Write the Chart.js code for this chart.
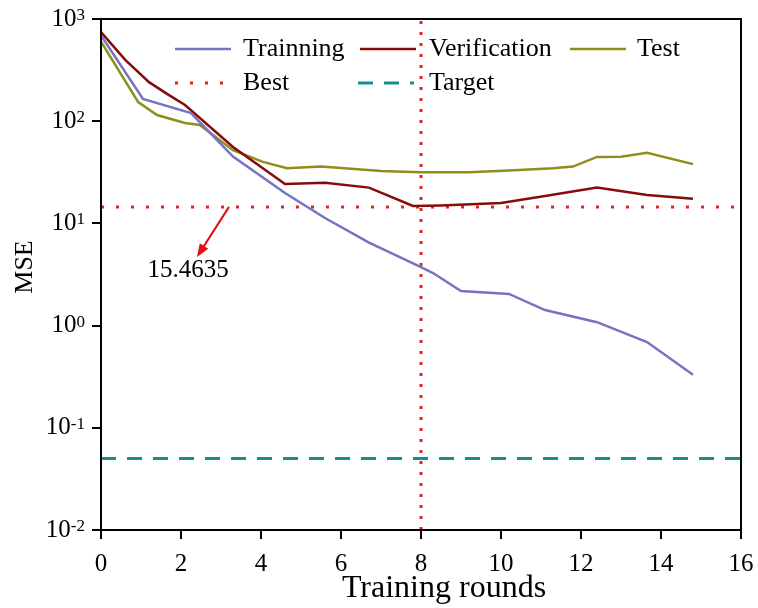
<!DOCTYPE html>
<html>
<head>
<meta charset="utf-8">
<script src="https://cdn.jsdelivr.net/npm/chart.js@4.4.1/dist/chart.umd.min.js"></script>
<style>
  body { margin: 0; background: #fff; }
  #wrap { width: 758px; height: 608px; }
</style>
</head>
<body>
<div id="wrap"><canvas id="myChart" width="758" height="608"></canvas></div>
<script>
// datos
const trainX = [0, 1.05, 2.25, 3.3, 4.6, 5.6, 6.7, 8.0, 8.3, 9.0, 10.2, 11.1, 12.4, 13.65, 14.8];
const trainMse = [690, 165, 120, 45, 19.8, 11.3, 6.5, 3.74, 3.27, 2.18, 2.04, 1.42, 1.08, 0.69, 0.33];

const verifX = [0, 0.6, 1.2, 1.7, 2.1, 3.3, 4.6, 5.6, 6.7, 7.8, 8.5, 10.0, 11.1, 12.4, 13.65, 14.8];
const verifMse = [745, 400, 241, 180, 144, 56, 24.3, 25, 22.4, 14.8, 15.0, 15.8, 18.5, 22.4, 19, 17.4];

const testX = [0, 0.93, 1.4, 2.1, 2.47, 3.3, 4.05, 4.65, 5.5, 7.0, 8.0, 9.2, 10.2, 11.3, 11.8, 12.4, 13.0, 13.65, 14.8];
const testMse = [600, 154, 115, 96, 92, 52, 40, 34.7, 36, 32.5, 31.6, 31.6, 33, 34.7, 36, 44.7, 45, 49, 38];

const bestRound = 8;
const bestMse = 14.5;
const bestLabel = "15.4635";
const targetMse = 0.05;

const xMin = 0, xMax = 16, xStep = 2;
const yDecades = [-2, -1, 0, 1, 2, 3];
const xTitle = "Training rounds";
const yTitle = "MSE";

// flecha del valor optimo (coordenadas de datos)
const arrowFrom = { x: 3.2, y: bestMse };
const arrowTo = { x: 2.4, y: 4.7 };
const labelAt = { x: 2.18, y: 3.5 };

const SERIF = "'Liberation Serif', 'Times New Roman', serif";

const colores = {
    train: "#7474c2",
    verif: "#860c0c",
    test: "#8e8e1c",
    best: "#e02424",
    target: "#168e8e"
};

function puntos(xs, ys) {
    return xs.map((x, i) => ({ x: x, y: ys[i] }));
}

const yMin = Math.pow(10, yDecades[0]);
const yMax = Math.pow(10, yDecades[yDecades.length - 1]);

const datasets = [
    { label: "Trainning", data: puntos(trainX, trainMse), borderColor: colores.train, borderWidth: 2.5 },
    { label: "Verification", data: puntos(verifX, verifMse), borderColor: colores.verif, borderWidth: 2.5 },
    { label: "Test", data: puntos(testX, testMse), borderColor: colores.test, borderWidth: 2.5 },
    { label: "Best", data: [{ x: xMin, y: bestMse }, { x: xMax, y: bestMse }], borderColor: colores.best, borderWidth: 3, borderDash: [3, 12] },
    { label: "BestV", data: [{ x: bestRound, y: yMin }, { x: bestRound, y: yMax }], borderColor: colores.best, borderWidth: 3, borderDash: [3, 8] },
    { label: "Target", data: [{ x: xMin, y: targetMse }, { x: xMax, y: targetMse }], borderColor: colores.target, borderWidth: 3, borderDash: [15, 11] }
];

// leyenda dibujada a mano (3 columnas, 2 filas)
const leyenda = [
    { ds: 0, x: 175, y: 49, tx: 243 },
    { ds: 1, x: 360, y: 49, tx: 429 },
    { ds: 2, x: 570, y: 49, tx: 637 },
    { ds: 3, x: 175, y: 83, tx: 243 },
    { ds: 5, x: 358, y: 83, tx: 429 }
];

const extras = {
    id: "extras",
    afterDraw(chart) {
        const ctx = chart.ctx;
        const a = chart.chartArea;
        const xs = chart.scales.x;
        const ys = chart.scales.y;
        ctx.save();

        // marco superior y derecho
        ctx.strokeStyle = "#000";
        ctx.lineWidth = 2;
        ctx.strokeRect(a.left, a.top, a.right - a.left, a.bottom - a.top);

        // etiquetas del eje y con exponente
        yDecades.forEach((e) => {
            const py = ys.getPixelForValue(Math.pow(10, e));
            const exp = String(e);
            ctx.font = "17px " + SERIF;
            const wExp = ctx.measureText(exp).width;
            const right = 85;
            ctx.fillStyle = "#000";
            ctx.textAlign = "left";
            ctx.textBaseline = "alphabetic";
            ctx.fillText(exp, right - wExp, py + 1);
            ctx.font = "25px " + SERIF;
            ctx.textAlign = "right";
            ctx.textBaseline = "middle";
            ctx.fillText("10", right - wExp, py);
        });

        // titulos de ejes
        ctx.fillStyle = "#000";
        ctx.font = "32px " + SERIF;
        ctx.textAlign = "center";
        ctx.textBaseline = "middle";
        ctx.fillText(xTitle, 444, 589);

        ctx.save();
        ctx.translate(25, 267);
        ctx.rotate(-Math.PI / 2);
        ctx.font = "26px " + SERIF;
        ctx.fillText(yTitle, 0, 0);
        ctx.restore();

        // flecha
        const x1 = xs.getPixelForValue(arrowFrom.x), y1 = ys.getPixelForValue(arrowFrom.y);
        const x2 = xs.getPixelForValue(arrowTo.x), y2 = ys.getPixelForValue(arrowTo.y);
        const ang = Math.atan2(y2 - y1, x2 - x1);
        const head = 13;
        ctx.strokeStyle = "#e01010";
        ctx.fillStyle = "#e01010";
        ctx.lineWidth = 2;
        ctx.beginPath();
        ctx.moveTo(x1, y1);
        ctx.lineTo(x2 - Math.cos(ang) * head * 0.8, y2 - Math.sin(ang) * head * 0.8);
        ctx.stroke();
        ctx.beginPath();
        ctx.moveTo(x2, y2);
        ctx.lineTo(x2 - head * Math.cos(ang) + 5 * Math.sin(ang), y2 - head * Math.sin(ang) - 5 * Math.cos(ang));
        ctx.lineTo(x2 - head * Math.cos(ang) - 5 * Math.sin(ang), y2 - head * Math.sin(ang) + 5 * Math.cos(ang));
        ctx.closePath();
        ctx.fill();

        ctx.fillStyle = "#000";
        ctx.font = "25px " + SERIF;
        ctx.textAlign = "center";
        ctx.textBaseline = "middle";
        ctx.fillText(bestLabel, xs.getPixelForValue(labelAt.x), ys.getPixelForValue(labelAt.y));

        // leyenda
        leyenda.forEach((it) => {
            const ds = chart.data.datasets[it.ds];
            ctx.strokeStyle = ds.borderColor;
            ctx.lineWidth = ds.borderWidth;
            ctx.setLineDash(ds.borderDash || []);
            ctx.beginPath();
            ctx.moveTo(it.x, it.y);
            ctx.lineTo(it.x + 56, it.y);
            ctx.stroke();
            ctx.setLineDash([]);
            ctx.fillStyle = "#000";
            ctx.font = "26px " + SERIF;
            ctx.textAlign = "left";
            ctx.textBaseline = "middle";
            ctx.fillText(ds.label, it.tx, it.y);
        });
        ctx.restore();
    }
};

const config = {
    type: "line",
    data: { datasets: datasets },
    options: {
        responsive: false,
        animation: false,
        layout: { padding: { top: 19, right: 17, left: 0, bottom: 0 } },
        elements: { point: { radius: 0 }, line: { tension: 0, fill: false } },
        plugins: { legend: { display: false }, tooltip: { enabled: false } },
        scales: {
            x: {
                type: "linear",
                min: xMin,
                max: xMax,
                ticks: { stepSize: xStep, color: "#000", font: { family: SERIF, size: 25 }, padding: 10, maxRotation: 0 },
                grid: { drawOnChartArea: false, drawTicks: true, tickLength: 9, color: "#000", lineWidth: 2 },
                border: { display: true, color: "#000", width: 2 },
                afterFit(scale) {
                    scale.height = 78;
                    scale.paddingLeft = 0;
                    scale.paddingRight = 0;
                }
            },
            y: {
                type: "logarithmic",
                min: yMin,
                max: yMax,
                ticks: { display: false },
                grid: { drawOnChartArea: false, drawTicks: true, tickLength: 9, color: "#000", lineWidth: 2 },
                border: { display: true, color: "#000", width: 2 },
                afterBuildTicks(scale) { scale.ticks = yDecades.map((e) => ({ value: Math.pow(10, e) })); },
                afterFit(scale) {
                    scale.width = 101;
                    scale.paddingTop = 0;
                    scale.paddingBottom = 0;
                }
            }
        }
    },
    plugins: [extras]
};

new Chart(document.getElementById("myChart"), config);
</script>
</body>
</html>
